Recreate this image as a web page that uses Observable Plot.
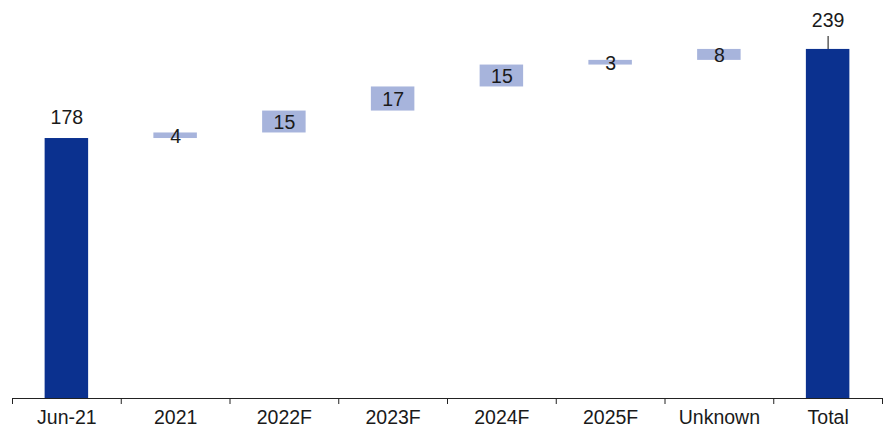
<!DOCTYPE html>
<html>
<head>
<meta charset="utf-8">
<script src="https://cdn.jsdelivr.net/npm/d3@7"></script>
<script src="https://cdn.jsdelivr.net/npm/@observablehq/plot@0.6"></script>
<style>
  html, body { margin: 0; padding: 0; background: #fff; }
  #chart { width: 892px; height: 429px; }
  svg { font-family: "Liberation Sans", Arial, sans-serif; }
</style>
</head>
<body>
<div id="chart"></div>
<script>
const categories = ["Jun-21", "2021", "2022F", "2023F", "2024F", "2025F", "Unknown", "Total"];
const values = [178, 3.8, 15, 16.5, 15, 3.2, 7.5, 239];
const kinds = ["total", "delta", "delta", "delta", "delta", "delta", "delta", "total"];

const darkBlue = "#0b318f";
const lightBlue = "#a7b4dc";

let run = 0;
const rows = categories.map((c, i) => {
  let y1, y2;
  if (kinds[i] === "total") { y1 = 0; y2 = values[i]; run = values[i]; }
  else { y1 = run; y2 = run + values[i]; run = y2; }
  return { cat: c, i, kind: kinds[i], value: values[i], y1, y2, label: String(Math.round(values[i])) };
});
const n = categories.length;
const firstTotal = rows.filter((d, i) => i === 0);
const lastTotal = rows.filter((d, i) => i === n - 1);
const deltas = rows.filter(d => d.kind === "delta");

const chart = Plot.plot({
  width: 892,
  height: 429,
  marginLeft: 12,
  marginRight: 10,
  marginTop: 0,
  marginBottom: 31,
  style: { fontFamily: "'Liberation Sans', Arial, sans-serif", fontSize: "19.5px", color: "#1a1a1a", background: "#fff" },
  x: { type: "linear", domain: [0, n], axis: null },
  y: { domain: [0, 272.5], axis: null },
  marks: [
    Plot.rectY(rows, {
      x1: d => d.i + 0.3, x2: d => d.i + 0.7, y1: "y1", y2: "y2",
      fill: d => d.kind === "total" ? darkBlue : lightBlue
    }),
    Plot.ruleX(lastTotal, { x: d => d.i + 0.5, y1: "y2", y2: d => d.y2 + 8.9, stroke: "#444", strokeWidth: 1.3 }),
    Plot.text(firstTotal, { x: d => d.i + 0.5, y: "y2", text: "label", dy: -20.5, fill: "#1a1a1a", fontSize: 19.5 }),
    Plot.text(lastTotal, { x: d => d.i + 0.5, y: "y2", text: "label", dy: -29, fill: "#1a1a1a", fontSize: 19.5 }),
    Plot.text(deltas, {
      x: d => d.i + 0.5, y: d => (d.y1 + d.y2) / 2, text: "label",
      dy: 1, fill: "#1a1a1a", fontSize: 19.5
    }),
    Plot.ruleY([0], { stroke: "#222", strokeWidth: 1 }),
    Plot.axisX({ ticks: d3.range(0, n + 1), tickFormat: () => "", tickSize: 6, stroke: "#222", tickPadding: 0 }),
    Plot.axisX({
      ticks: d3.range(n).map(i => i + 0.5),
      tickFormat: t => categories[Math.floor(t)],
      tickSize: 0, tickPadding: 12, fontSize: 19.5, fill: "#1a1a1a"
    })
  ]
});
document.getElementById("chart").appendChild(chart);
</script>
</body>
</html>
